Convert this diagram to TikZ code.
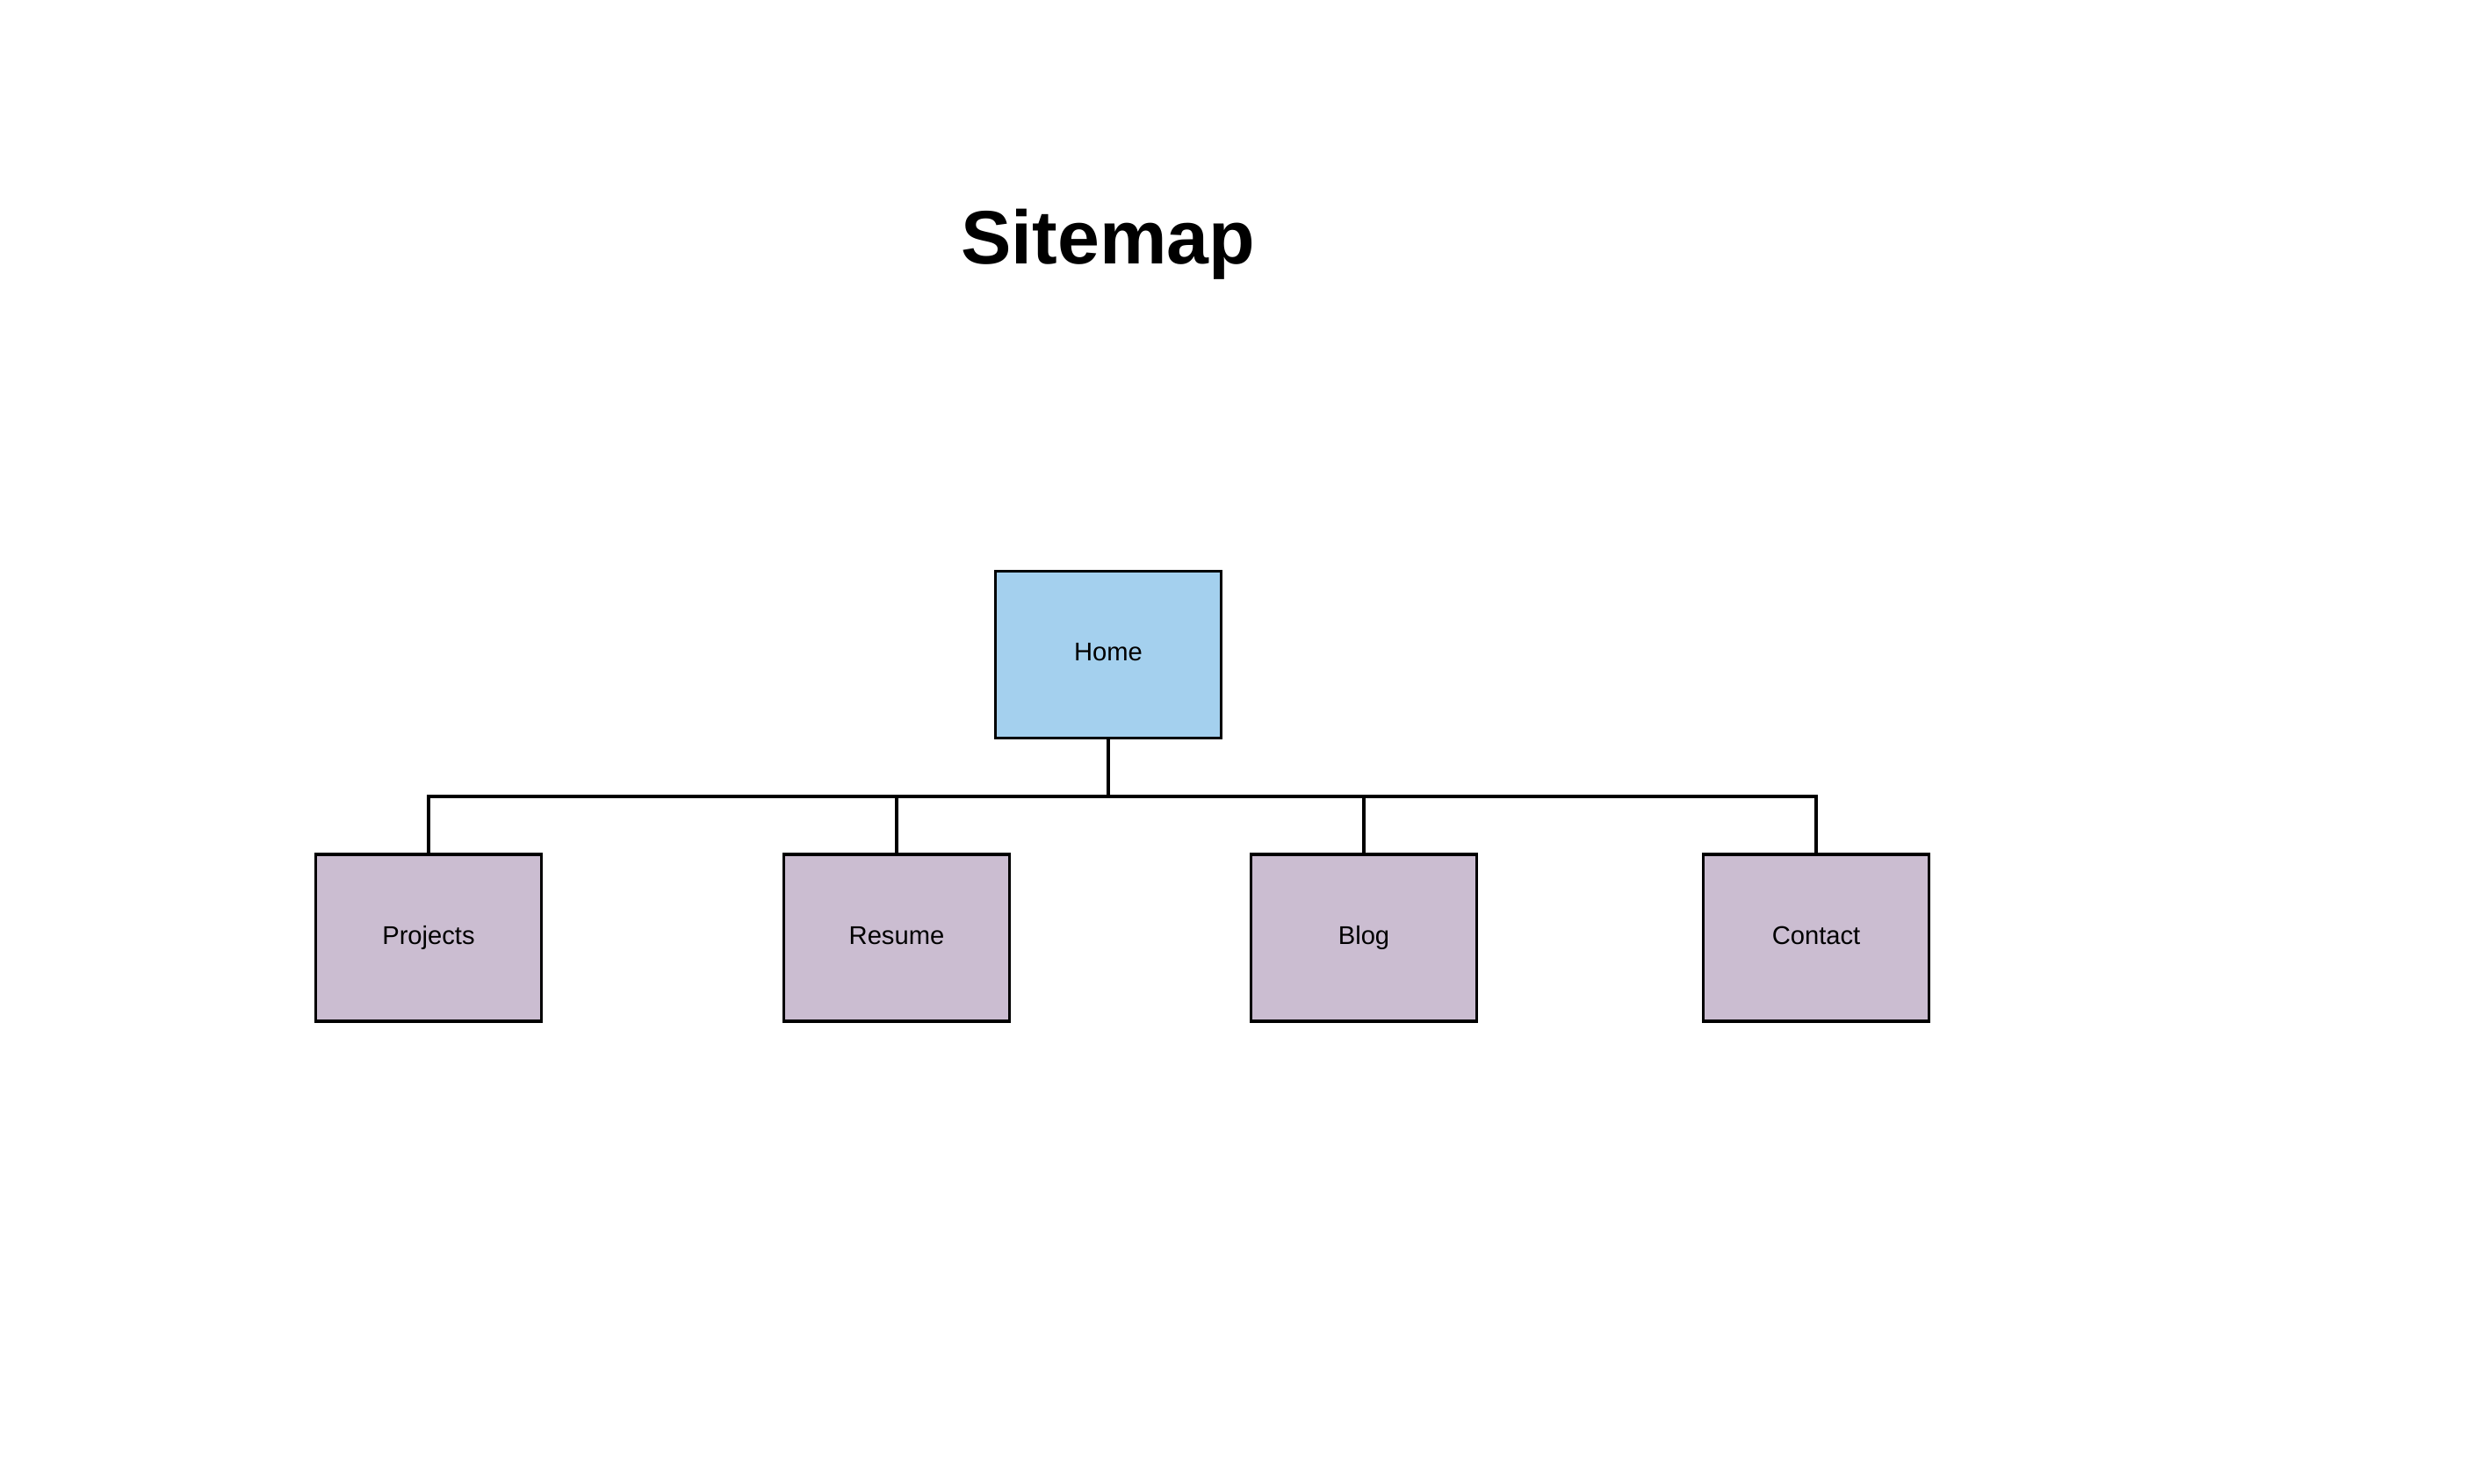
\documentclass[tikz,border=0pt]{standalone}
\usepackage{fontspec}
\setmainfont{Liberation Sans}
\usepackage{xcolor}
\usetikzlibrary{positioning}
\definecolor{homeblue}{HTML}{A4D0EE}
\definecolor{pagelilac}{HTML}{CBBDD1}

\begin{document}
\begin{tikzpicture}[line width=0.9pt,
        page/.style={fill=pagelilac,draw=black,line width=1pt,rectangle,inner sep=0pt,
          minimum width=2.57cm,minimum height=1.90cm,text height=0.6em,text depth=0.2em,
          font=\fontsize{8.3}{10}\selectfont},
        homepage/.style={page,fill=homeblue}]
      \useasboundingbox (0,0) rectangle (28.08,-16.90);
      %% title
      \node[anchor=base,font=\fontsize{24.5}{28}\selectfont\bfseries] (title) at (12.62,-3.01) {Sitemap};
      \node[homepage] (home) at (12.62,-7.455) {Home};
      \node[page] (projects) at (4.88,-10.68) {Projects};
      \node[page] (resume) at (10.21,-10.68) {Resume};
      \node[page] (blog) at (15.53,-10.68) {Blog};
      \node[page] (contact) at (20.68,-10.68) {Contact};
      \coordinate (bus) at (12.62,-9.07);
      \draw (home.south) -- (bus);
      \foreach \child in {projects,resume,blog,contact}
        \draw (bus) -| (\child.north);
    \end{tikzpicture}
\end{document}
